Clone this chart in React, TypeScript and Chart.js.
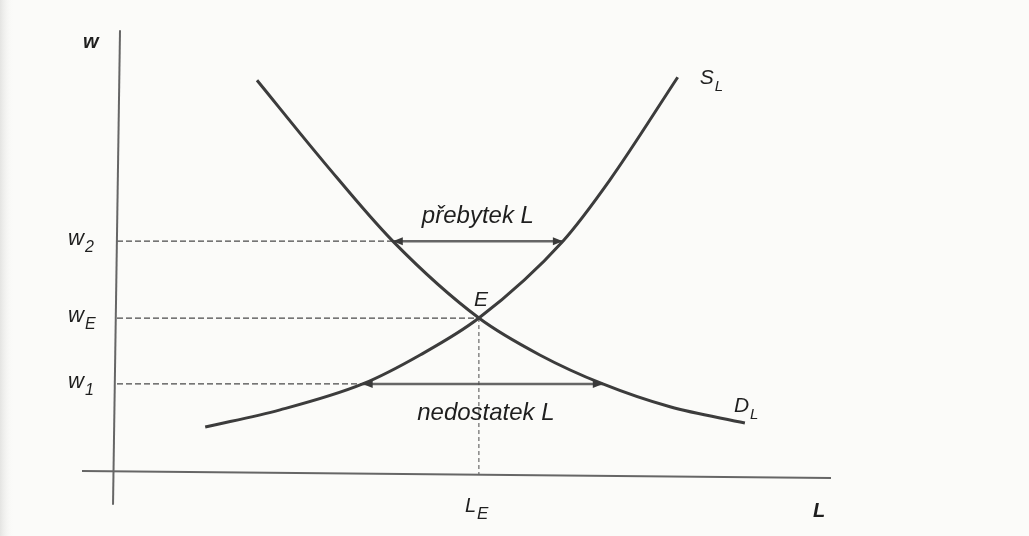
import React, { useEffect, useRef } from "react";
import { Chart, registerables } from "chart.js";

Chart.register(...registerables);

// Labour demand curve D_L (L, w)
const demandL = [20.0, 29.7, 39.4, 51.7, 60.4, 69.4, 79.0, 89.7];
const demandW = [89.1, 70.2, 52.5, 35.0, 26.6, 20.0, 14.8, 11.1];
// Labour supply curve S_L (L, w)
const supplyL = [12.6, 23.3, 35.1, 43.3, 51.7, 63.7, 70.4, 80.1];
const supplyW = [10.2, 14.1, 20.0, 26.6, 35.0, 52.5, 66.4, 89.8];
// Wage levels on the vertical axis
const wageNames = ["2", "E", "1"];
const wageValues = [52.5, 35.0, 20.0];
// Equilibrium employment
const equilibriumL = 51.7;
// Surplus (at w2) and shortage (at w1) ranges of L
const surplusRange = [39.4, 63.7];
const shortageRange = [35.1, 69.4];
// Axis end points (slightly tilted as on the scan)
const yAxisL = [0.43, -0.57];
const yAxisW = [100.5, -7.5];
const xAxisL = [-5.0, 102.3];
const xAxisW = [0.2, -1.4];

const FONT = '"Liberation Sans", Arial, Helvetica, sans-serif';
const INK = "#1f1f1f";

function pts(xs: number[], ys: number[]) {
  return xs.map((x, i) => ({ x, y: ys[i] }));
}

function drawSub(
  ctx: CanvasRenderingContext2D,
  main: string,
  sub: string,
  x: number,
  y: number,
  mainFont: string,
  subFont: string,
  subDy: number,
  subDx = 1
) {
  ctx.font = mainFont;
  ctx.fillText(main, x, y);
  const w = ctx.measureText(main).width;
  ctx.font = subFont;
  ctx.fillText(sub, x + w + subDx, y + subDy);
}

function arrowHead(ctx: CanvasRenderingContext2D, x: number, y: number, dir: number) {
  ctx.beginPath();
  ctx.moveTo(x, y);
  ctx.lineTo(x - dir * 10, y - 4);
  ctx.lineTo(x - dir * 10, y + 4);
  ctx.closePath();
  ctx.fill();
}

const diagramPlugin = {
  id: "diagram",
  beforeDraw(chart: any) {
    const { ctx, width, height } = chart;
    ctx.save();
    ctx.fillStyle = "#fbfbf9";
    ctx.fillRect(0, 0, width, height);
    const g = ctx.createLinearGradient(0, 0, 14, 0);
    g.addColorStop(0, "#e4e4e2");
    g.addColorStop(1, "rgba(251,251,249,0)");
    ctx.fillStyle = g;
    ctx.fillRect(0, 0, 14, height);
    ctx.restore();
  },
  afterDatasetsDraw(chart: any) {
    const { ctx } = chart;
    const xs = chart.scales.x;
    const ys = chart.scales.y;
    const px = (v: number) => xs.getPixelForValue(v);
    const py = (v: number) => ys.getPixelForValue(v);
    ctx.save();
    ctx.fillStyle = "#3a3a3a";
    // arrowheads
    arrowHead(ctx, px(surplusRange[0]), py(wageValues[0]), -1);
    arrowHead(ctx, px(surplusRange[1]), py(wageValues[0]), 1);
    arrowHead(ctx, px(shortageRange[0]), py(wageValues[2]), -1);
    arrowHead(ctx, px(shortageRange[1]), py(wageValues[2]), 1);

    ctx.fillStyle = INK;
    ctx.textBaseline = "alphabetic";
    ctx.textAlign = "left";
    const x0 = px(0);
    // wage tick labels
    wageValues.forEach((w, i) => {
      const y = py(w);
      drawSub(ctx, "w", wageNames[i], x0 - 49, y + 4, `italic 22px ${FONT}`, `italic 16px ${FONT}`, 7, 1);
    });
    // axis titles
    ctx.font = `italic bold 20px ${FONT}`;
    ctx.fillText("w", x0 - 34, py(100.5) + 18);
    ctx.fillText("L", px(xAxisL[1]) - 20, py(0) + 45);
    // L_E
    drawSub(ctx, "L", "E", px(equilibriumL) - 14, py(0) + 40, `italic 20px ${FONT}`, `italic 17px ${FONT}`, 7, 1);
    // E
    ctx.font = `italic 21px ${FONT}`;
    ctx.fillText("E", px(equilibriumL) - 5, py(wageValues[1]) - 12);
    // curve labels
    const sTop = supplyL.length - 1;
    drawSub(ctx, "S", "L", px(supplyL[sTop]) + 22, py(supplyW[sTop]) + 7, `italic 21px ${FONT}`, `italic 15px ${FONT}`, 7, 1);
    const dEnd = demandL.length - 1;
    drawSub(ctx, "D", "L", px(demandL[dEnd]) - 11, py(demandW[dEnd]) - 11, `italic 21px ${FONT}`, `italic 15px ${FONT}`, 7, 1);
    // surplus / shortage
    ctx.textAlign = "center";
    ctx.font = `italic 24px ${FONT}`;
    ctx.fillText("přebytek L", px(equilibriumL) - 1, py(wageValues[0]) - 18);
    ctx.fillText("nedostatek L", px(equilibriumL) + 7, py(wageValues[2]) + 36);
    ctx.restore();
  },
};

export default function App() {
  const ref = useRef<HTMLCanvasElement | null>(null);
  useEffect(() => {
    if (!ref.current) return;
    const dashed = { borderColor: "#4a4a4a", borderWidth: 1.2, borderDash: [6, 3], pointRadius: 0, fill: false };
    const curve = { borderColor: "#3c3c3c", borderWidth: 3, pointRadius: 0, cubicInterpolationMode: "monotone", fill: false };
    const datasets: any[] = [
      { ...curve, data: pts(demandL, demandW) },
      { ...curve, data: pts(supplyL, supplyW) },
      { data: pts(yAxisL, yAxisW), borderColor: "#666", borderWidth: 2, pointRadius: 0, fill: false },
      { data: pts(xAxisL, xAxisW), borderColor: "#666", borderWidth: 2, pointRadius: 0, fill: false },
      { ...dashed, data: [{ x: 0, y: wageValues[0] }, { x: surplusRange[0], y: wageValues[0] }] },
      { ...dashed, data: [{ x: 0, y: wageValues[1] }, { x: equilibriumL, y: wageValues[1] }] },
      { ...dashed, data: [{ x: 0, y: wageValues[2] }, { x: shortageRange[0], y: wageValues[2] }] },
      { ...dashed, borderDash: [4, 3], borderWidth: 1, data: [{ x: equilibriumL, y: wageValues[1] }, { x: equilibriumL, y: -0.5 }] },
      { data: [{ x: surplusRange[0], y: wageValues[0] }, { x: surplusRange[1], y: wageValues[0] }], borderColor: "#666", borderWidth: 2.5, pointRadius: 0, fill: false },
      { data: [{ x: shortageRange[0], y: wageValues[2] }, { x: shortageRange[1], y: wageValues[2] }], borderColor: "#666", borderWidth: 2.5, pointRadius: 0, fill: false },
    ];
    const chart = new Chart(ref.current, {
      type: "line",
      data: { datasets },
      options: {
        animation: false,
        responsive: false,
        layout: { padding: { left: 82, right: 198, top: 28, bottom: 29 } },
        plugins: { legend: { display: false }, tooltip: { enabled: false } },
        scales: {
          x: { type: "linear", min: -5, max: 102, display: false },
          y: { type: "linear", min: -8, max: 101, display: false },
        },
      },
      plugins: [diagramPlugin],
    });
    return () => chart.destroy();
  }, []);
  return (
    <canvas
      ref={ref}
      width={1029}
      height={536}
      style={{ position: "absolute", left: 0, top: 0, width: 1029, height: 536, display: "block" }}
    />
  );
}
